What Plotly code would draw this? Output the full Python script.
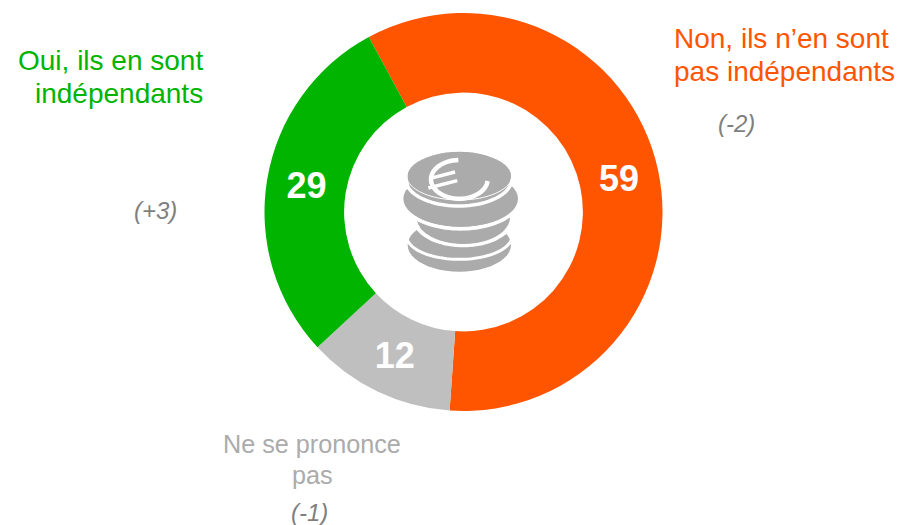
import math
import plotly.graph_objects as go

W, H = 899, 525
categories = ["Non, ils n’en sont pas indépendants", "Ne se prononce pas", "Oui, ils en sont indépendants"]
values = [59, 12, 29]
colors = ["#FF5500", "#BFBFBF", "#00B400"]
changes = ["(-2)", "(-1)", "(+3)"]
FONT = "Liberation Sans"
ICON = "#ABABAB"

def px(x): return x / W
def py(y): return 1 - y / H

def zx(v): return 380 + v / 3
def zy(v): return 130 + v / 3

def arc_path(cx, cy, rx, ry, a0, a1, n=48):
    pts = []
    for i in range(n + 1):
        a = math.radians(a0 + (a1 - a0) * i / n)
        pts.append((cx + rx * math.cos(a), cy + ry * math.sin(a)))
    return pts

def to_path(pts, close=False):
    s = "M " + " L ".join(f"{px(x):.5f},{py(y):.5f}" for x, y in pts)
    return s + (" Z" if close else "")

def poly(pts, fill):
    return dict(type="path", xref="paper", yref="paper", path=to_path(pts, True),
                fillcolor=fill, line=dict(width=0), layer="above")

def stroke(pts, color, width):
    return dict(type="path", xref="paper", yref="paper", path=to_path(pts),
                line=dict(color=color, width=width), layer="above")

def ell(cx, cy, rx, ry, a0=0, a1=360):
    return arc_path(zx(cx), zy(cy), rx / 3, ry / 3, a0, a1)

shapes = []
# bottom coin and its rim stripe
shapes.append(poly(ell(238, 345, 155, 80), ICON))
shapes.append(stroke(ell(238, 318, 158, 70, 8, 172), "white", 3))
# lower middle coin
shapes.append(stroke(ell(250, 262, 148, 84, 0, 180), "white", 4))
shapes.append(poly(ell(250, 262, 140, 80), ICON))
# middle coin
shapes.append(stroke(ell(242, 206, 176, 90, 0, 180), "white", 4))
shapes.append(poly(ell(242, 206, 172, 84), ICON))
# rim stripe below the top coin
shapes.append(poly(ell(238, 145, 155, 80), ICON))
shapes.append(stroke(ell(236, 146, 160, 82, 0, 180), "white", 3.5))
# top coin
shapes.append(stroke(ell(238, 137, 158, 73, 0, 180), "white", 1))
shapes.append(poly(ell(238, 137, 155, 70), ICON))
# euro sign
shapes.append(stroke(ell(238, 148, 85, 58, 5, 268), "white", 4.5))
shapes.append(stroke([(zx(145), zy(174)), (zx(232), zy(152))], "white", 3.5))
shapes.append(stroke([(zx(148), zy(146)), (zx(225), zy(126))], "white", 3.5))

def note(x, y, text, color, size, anchor="center", italic=False):
    return dict(xref="paper", yref="paper", x=px(x), y=py(y), text=f"<i>{text}</i>" if italic else text,
                showarrow=False, xanchor=anchor, yanchor="middle", align=anchor,
                font=dict(family=FONT, size=size, color=color))

annotations = [
    note(205, 60, "Oui, ils en sont", colors[2], 28, "right"),
    note(205, 93, "indépendants", colors[2], 28, "right"),
    note(672, 38, "Non, ils n’en sont", colors[0], 28, "left"),
    note(672, 72, "pas indépendants", colors[0], 28, "left"),
    note(312, 444, "Ne se prononce", "#ABABAB", 25.2),
    note(312, 475, "pas", "#ABABAB", 25.2),
    note(736, 124, changes[0], "#7F7F7F", 24, italic=True),
    note(155, 210, changes[2], "#7F7F7F", 24, italic=True),
    note(309, 512, changes[1], "#7F7F7F", 24, italic=True),
]

fig = go.Figure(go.Pie(
    labels=categories, values=values, sort=False, direction="clockwise", rotation=331.6,
    hole=0.6, marker=dict(colors=colors, line=dict(width=0)),
    textinfo="value", textposition="inside", insidetextorientation="horizontal",
    insidetextfont=dict(family=FONT, size=36, color="white", weight="bold"),
    showlegend=False, domain=dict(x=[px(264.5), px(662.5)], y=[py(411), py(13)]),
))
fig.update_layout(width=W, height=H, margin=dict(l=0, r=0, t=0, b=0), paper_bgcolor="white",
                  shapes=shapes, annotations=annotations, font=dict(family=FONT))
fig.write_html("out.html", post_script="document.body.style.margin='0';",
               config=dict(displayModeBar=False))
